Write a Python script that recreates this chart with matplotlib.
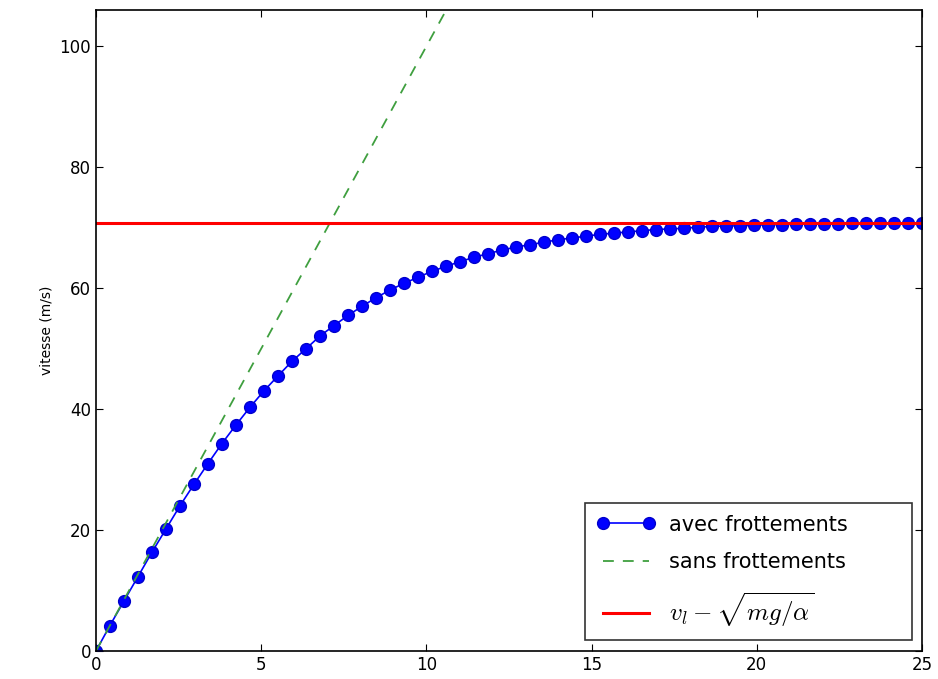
import matplotlib
matplotlib.use("Agg")
import matplotlib.pyplot as plt

# temps (s) of the markers on the "avec frottements" curve
t_avec = [0.00, 0.42, 0.85, 1.27, 1.69, 2.12, 2.54, 2.97, 3.39, 3.81,
          4.24, 4.66, 5.08, 5.51, 5.93, 6.36, 6.78, 7.20, 7.63, 8.05,
          8.47, 8.90, 9.32, 9.75, 10.17, 10.59, 11.02, 11.44, 11.86, 12.29,
          12.71, 13.14, 13.56, 13.98, 14.41, 14.83, 15.25, 15.68, 16.10, 16.53,
          16.95, 17.37, 17.80, 18.22, 18.64, 19.07, 19.49, 19.92, 20.34, 20.76,
          21.19, 21.61, 22.03, 22.46, 22.88, 23.31, 23.73, 24.15, 24.58, 25.00]
v_avec = [0.0, 4.2, 8.3, 12.3, 16.3, 20.2, 24.0, 27.6, 31.0, 34.3,
          37.4, 40.3, 43.0, 45.5, 47.9, 50.0, 52.1, 53.8, 55.5, 57.0,
          58.4, 59.7, 60.8, 61.8, 62.8, 63.6, 64.4, 65.1, 65.7, 66.3,
          66.8, 67.2, 67.6, 68.0, 68.3, 68.6, 68.9, 69.1, 69.3, 69.5,
          69.7, 69.8, 69.9, 70.1, 70.2, 70.3, 70.3, 70.4, 70.5, 70.5,
          70.6, 70.6, 70.6, 70.6, 70.7, 70.7, 70.7, 70.7, 70.7, 70.7]

# chute libre sans frottements (droite)
t_sans = [0.0, 25.0]
v_sans = [0.0, 250.0]

# vitesse limite
v_lim = 70.7

plt.rcParams['font.family'] = 'DejaVu Sans'
plt.rcParams['xtick.direction'] = 'in'
plt.rcParams['ytick.direction'] = 'in'
plt.rcParams['mathtext.fontset'] = 'cm'

fig = plt.figure(figsize=(9.38, 6.79), dpi=100)
ax = fig.add_axes([96 / 938, 28 / 679, 826 / 938, 641 / 679])

ax.plot(t_avec, v_avec, 'o-', color='#0000ff', markersize=8.5, linewidth=1.2,
        markeredgecolor='#0000cc', label='avec frottements')
ax.plot(t_sans, v_sans, color='#3f9f3f', linewidth=1.3, dashes=(6, 5),
        label='sans frottements')
ax.axhline(v_lim, color='#ff0000', linewidth=2.2,
           label=r'$v_l - \sqrt{mg/\alpha}$')

ax.set_xlim(0, 25)
ax.set_ylim(0, 106)
ax.set_xticks([0, 5, 10, 15, 20, 25])
ax.set_yticks([0, 20, 40, 60, 80, 100])
ax.tick_params(labelsize=12, top=True, right=True, length=5, width=0.8)
ax.set_ylabel('vitesse (m/s)', fontsize=10)
for s in ax.spines.values():
    s.set_linewidth(1.2)

# legend box placed where it sits in the reference (lower right)
leg = ax.legend(loc='lower left', bbox_to_anchor=(0.592, 0.017, 0.396, 0.211),
                mode='expand', borderaxespad=0, fontsize=15, fancybox=False,
                numpoints=2, borderpad=0.55, labelspacing=0.85, handlelength=2.8,
                handletextpad=0.7)
leg.get_texts()[2].set_fontsize(18)
leg.get_frame().set_edgecolor('black')
leg.get_frame().set_linewidth(1.2)

plt.savefig('out.png', dpi=100)
